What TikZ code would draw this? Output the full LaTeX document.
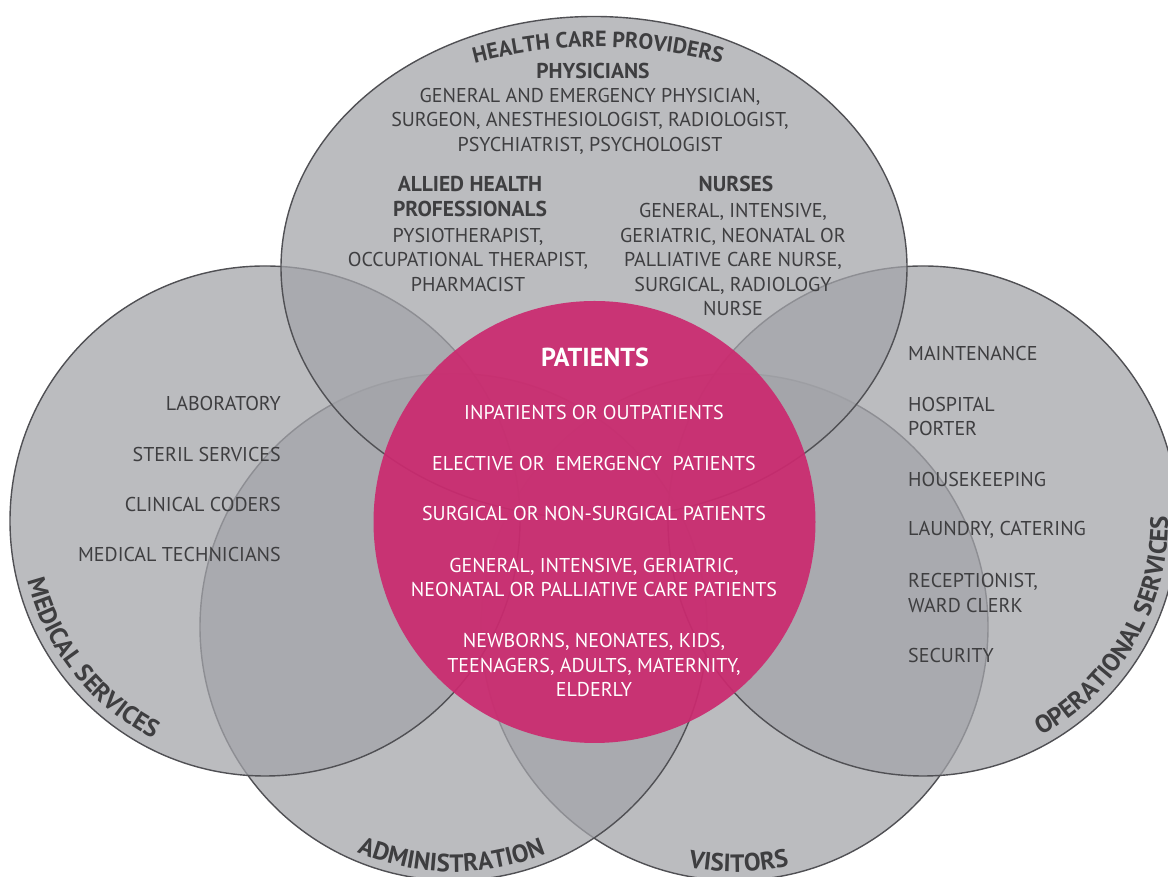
\documentclass[tikz,border=0pt]{standalone}
\usepackage{fontspec}
\setmainfont{PT Sans}
\usetikzlibrary{decorations.text}
\definecolor{circfill}{RGB}{163,164,169}
\definecolor{circline}{RGB}{80,80,84}
\definecolor{pinkfill}{RGB}{203,42,111}
\definecolor{txt}{RGB}{62,62,64}
\newcommand{\bodyfont}{\fontsize{20}{24.5}\selectfont}
\newcommand{\headfont}{\fontsize{21.5}{25}\selectfont\bfseries}
\newcommand{\bigheadfont}{\fontsize{26}{28}\selectfont\bfseries}
\newcommand{\curvefont}{\fontsize{25}{28}\selectfont\bfseries\color{txt}}
\newcommand{\topcurvefont}{\fontsize{22}{26}\selectfont\bfseries\color{txt}}
\begin{document}
\begin{tikzpicture}[x=1pt,y=1pt,
  venn/.style={fill=circfill, fill opacity=0.74, draw=circline, line width=1.4pt},
  pinkc/.style={fill=pinkfill, fill opacity=0.93, draw=none},
  body/.style={text=txt, font=\bodyfont, align=center, inner sep=0pt},
  head/.style={text=txt, font=\headfont, align=center, inner sep=0pt},
  wbody/.style={text=white, font=\bodyfont, align=center, inner sep=0pt},
  whead/.style={text=white, font=\bigheadfont, align=center, inner sep=0pt},
  curved/.style={decorate, decoration={text along path, text align=center, text={#1}}}
]
\useasboundingbox (0,0) rectangle (1168,877);
% circles (back to front)
\draw[venn] (734.5,250) circle[radius=253.5];
\draw[venn] (453.5,250) circle[radius=253.5];
\draw[venn] (265,356) circle[radius=255];
\draw[venn] (923,356) circle[radius=255];
\draw[venn] (594,609.5) ellipse[x radius=313, y radius=251];
\fill[pinkc] (594.5,355) circle[radius=221];

% curved titles
\path[curved={|\topcurvefont|HEALTH CARE PROVIDERS}] (598,350) ++(125:480) arc[start angle=125, end angle=55, radius=480];
\path[curved={|\curvefont|MEDICAL SERVICES}] (265,356) ++(165:245) arc[start angle=165, end angle=272, radius=245];
\path[curved={|\curvefont|OPERATIONAL SERVICES}] (923,356) ++(275:245) arc[start angle=275, end angle=385, radius=245];
\path[curved={|\curvefont|ADMINISTRATION}] (453.5,250) ++(215:245) arc[start angle=215, end angle=324, radius=245];
\path[curved={|\curvefont|VISITORS}] (734.5,250) ++(216:245) arc[start angle=216, end angle=326, radius=245];

% health care providers
\node[head] (phys) at (593,806) {PHYSICIANS};
\node[body] (physlist) at (590,755.7) {GENERAL AND EMERGENCY PHYSICIAN,\\SURGEON, ANESTHESIOLOGIST, RADIOLOGIST,\\PSYCHIATRIST, PSYCHOLOGIST};
\node[head] (allied) at (470,680.5) {ALLIED HEALTH\\PROFESSIONALS};
\node[body] (alliedlist) at (468,617.3) {PYSIOTHERAPIST,\\OCCUPATIONAL THERAPIST,\\PHARMACIST};
\node[head] (nurses) at (736,693) {NURSES};
\node[body] (nurselist) at (733,617.4) {GENERAL, INTENSIVE,\\GERIATRIC, NEONATAL OR\\PALLIATIVE CARE NURSE,\\SURGICAL, RADIOLOGY\\NURSE};

% medical services
\node[body, anchor=east] (lab) at (281,473) {LABORATORY};
\node[body, anchor=east] (steril) at (281,422) {STERIL SERVICES};
\node[body, anchor=east] (coders) at (281,372) {CLINICAL CODERS};
\node[body, anchor=east] (techs) at (281,322) {MEDICAL TECHNICIANS};

% operational services
\node[body, anchor=west, align=left] (maint) at (908,523) {MAINTENANCE};
\node[body, anchor=west, align=left] (porter) at (908,460.5) {HOSPITAL\\PORTER};
\node[body, anchor=west, align=left] (house) at (908,397) {HOUSEKEEPING};
\node[body, anchor=west, align=left] (laundry) at (908,347) {LAUNDRY, CATERING};
\node[body, anchor=west, align=left] (recep) at (908,284) {RECEPTIONIST,\\WARD CLERK};
\node[body, anchor=west, align=left] (secur) at (908,221) {SECURITY};

% patients
\node[whead] (patients) at (595,520) {PATIENTS};
\node[wbody] (p1) at (594,464) {INPATIENTS OR OUTPATIENTS};
\node[wbody] (p2) at (594,413) {ELECTIVE OR\ \ EMERGENCY\ \ PATIENTS};
\node[wbody] (p3) at (594,363) {SURGICAL OR NON-SURGICAL PATIENTS};
\node[wbody] (p4) at (594,299.5) {GENERAL, INTENSIVE, GERIATRIC,\\NEONATAL OR PALLIATIVE CARE PATIENTS};
\node[wbody] (p5) at (594,211.7) {NEWBORNS, NEONATES, KIDS,\\TEENAGERS, ADULTS, MATERNITY,\\ELDERLY};
\end{tikzpicture}
\end{document}
